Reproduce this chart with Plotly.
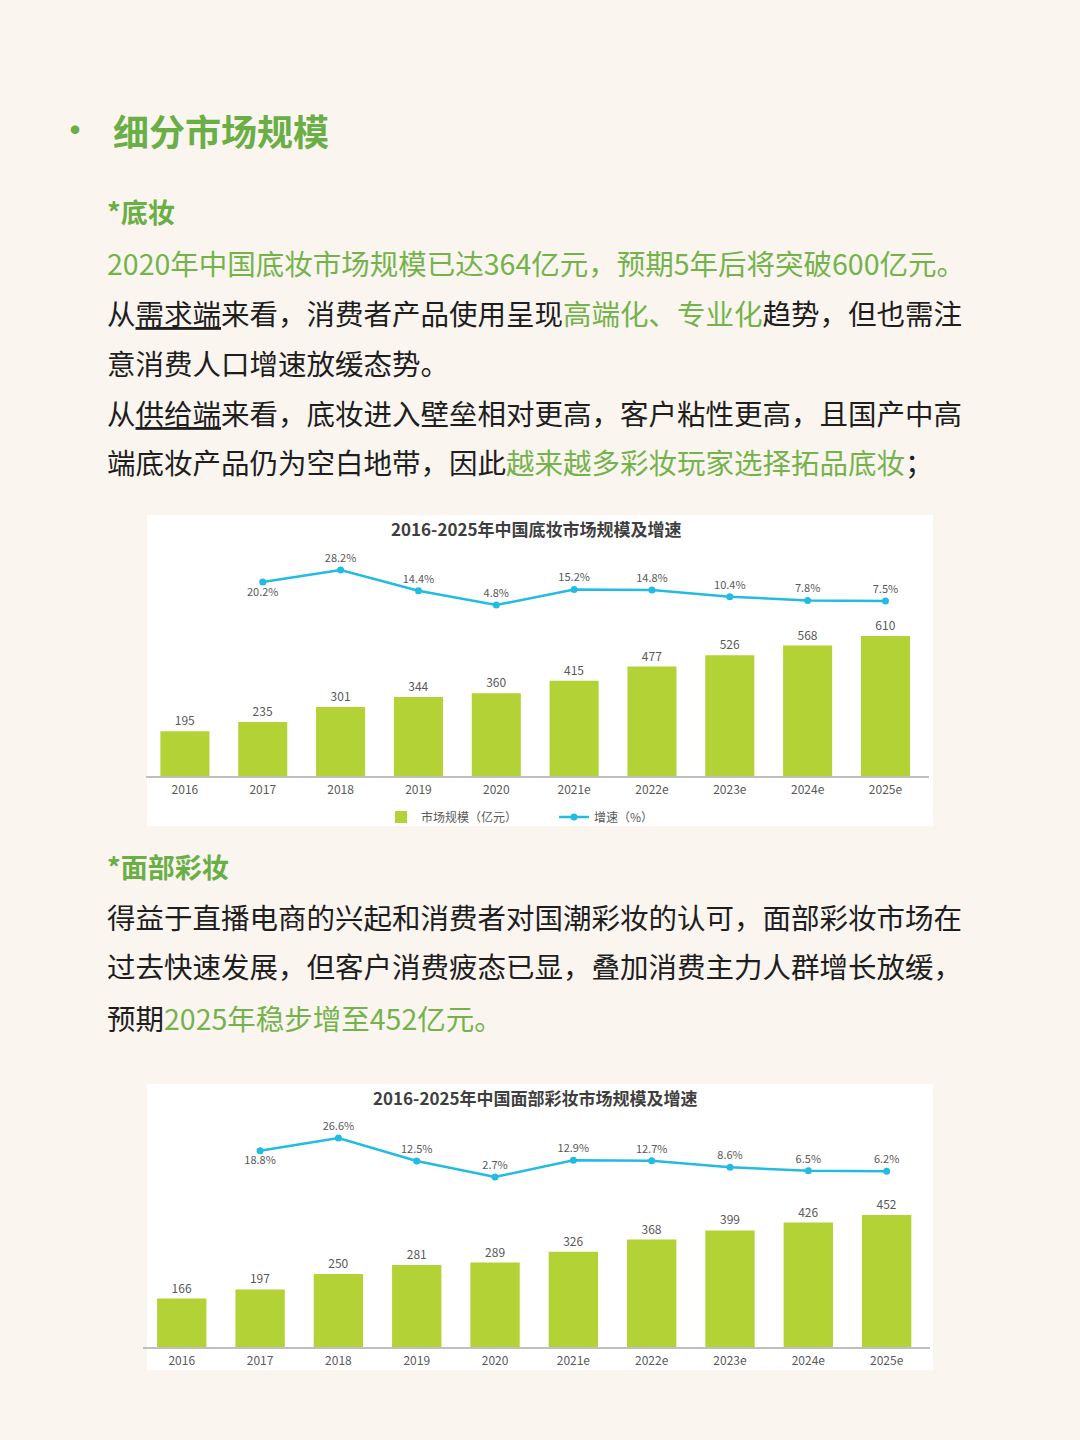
import plotly.graph_objects as go

W, H = 1080, 1440

# ---------------- data ----------------
years = ["2016", "2017", "2018", "2019", "2020", "2021e", "2022e", "2023e", "2024e", "2025e"]
growth_years = years[1:]

base_size = [195, 235, 301, 344, 360, 415, 477, 526, 568, 610]
base_growth = [20.2, 28.2, 14.4, 4.8, 15.2, 14.8, 10.4, 7.8, 7.5]

face_size = [166, 197, 250, 281, 289, 326, 368, 399, 426, 452]
face_growth = [18.8, 26.6, 12.5, 2.7, 12.9, 12.7, 8.6, 6.5, 6.2]

chart1_title = "2016-2025年中国底妆市场规模及增速"
chart2_title = "2016-2025年中国面部彩妆市场规模及增速"
legend_bar = "市场规模（亿元）"
legend_line = "增速（%）"

# ---------------- style ----------------
BG = "#FBF5F0"
GREEN_HEAD = "#6AAE46"
GREEN_TXT = "#74B34C"
DARK = "#1E1E1E"
BAR = "#B2D235"
LINE = "#22BBE3"
LBL = "#595959"
FONT = "Noto Sans CJK SC"


def px(x):
    return x / W


def py(y):
    return 1 - y / H


fig = go.Figure()

# chart 1
fig.add_trace(go.Bar(
    x=years, y=base_size, xaxis="x", yaxis="y", name=legend_bar,
    marker=dict(color=BAR, line=dict(width=0)),
    text=[str(v) for v in base_size], textposition="outside",
    textfont=dict(size=12, color=LBL, family=FONT), cliponaxis=False,
    showlegend=True,
))
fig.add_trace(go.Scatter(
    x=growth_years, y=base_growth, xaxis="x", yaxis="y2", name=legend_line,
    mode="lines+markers+text",
    line=dict(color=LINE, width=2.5), marker=dict(color=LINE, size=7),
    text=[f"{v}%" for v in base_growth],
    textposition=["bottom center"] + ["top center"] * (len(base_growth) - 1),
    textfont=dict(size=11, color=LBL, family=FONT), cliponaxis=False,
    showlegend=True,
))

# chart 2
fig.add_trace(go.Bar(
    x=years, y=face_size, xaxis="x2", yaxis="y3", name=legend_bar,
    marker=dict(color=BAR, line=dict(width=0)),
    text=[str(v) for v in face_size], textposition="outside",
    textfont=dict(size=12, color=LBL, family=FONT), cliponaxis=False,
    showlegend=False,
))
fig.add_trace(go.Scatter(
    x=growth_years, y=face_growth, xaxis="x2", yaxis="y4", name=legend_line,
    mode="lines+markers+text",
    line=dict(color=LINE, width=2.5), marker=dict(color=LINE, size=7),
    text=[f"{v}%" for v in face_growth],
    textposition=["bottom center"] + ["top center"] * (len(face_growth) - 1),
    textfont=dict(size=11, color=LBL, family=FONT), cliponaxis=False,
    showlegend=False,
))

xcommon = dict(type="category", showline=True, linecolor="#BFBFBF", linewidth=1.5,
               showgrid=False, zeroline=False, ticks="outside", ticklen=2,
               tickcolor="rgba(0,0,0,0)",
               tickfont=dict(size=12, color=LBL, family=FONT), fixedrange=True)
yhidden = dict(visible=False, showgrid=False, zeroline=False, fixedrange=True)

fig.update_layout(
    width=W, height=H,
    margin=dict(l=0, r=0, t=0, b=0),
    paper_bgcolor=BG, plot_bgcolor="rgba(0,0,0,0)",
    font=dict(family=FONT, color=DARK),
    bargap=0.37,
    xaxis=dict(domain=[px(146), px(929)], anchor="y", **xcommon),
    yaxis=dict(domain=[py(776), py(560)], range=[0, 941], anchor="x", **yhidden),
    yaxis2=dict(overlaying="y", range=[-109.5, 34.9], anchor="x", **yhidden),
    xaxis2=dict(domain=[px(142.6), px(930.4)], anchor="y3", **xcommon),
    yaxis3=dict(domain=[py(1347), py(1130)], range=[0, 743], anchor="x2", **yhidden),
    yaxis4=dict(overlaying="y3", range=[-101.5, 31.5], anchor="x2", **yhidden),
    legend=dict(orientation="h", x=px(381), y=py(817), xanchor="left", yanchor="middle",
                bgcolor="rgba(0,0,0,0)", font=dict(size=12, color=LBL, family=FONT),
                entrywidth=128, entrywidthmode="pixels", traceorder="normal",
                itemclick=False, itemdoubleclick=False),
    shapes=[
        dict(type="rect", xref="paper", yref="paper", x0=px(147), x1=px(933),
             y0=py(826), y1=py(515), fillcolor="white", line=dict(width=0), layer="below"),
        dict(type="rect", xref="paper", yref="paper", x0=px(147), x1=px(933),
             y0=py(1370), y1=py(1084), fillcolor="white", line=dict(width=0), layer="below"),
    ],
)

ann = []


def add_text(x, y, text, size=28.5, color=DARK, xanchor="left"):
    ann.append(dict(xref="paper", yref="paper", x=px(x), y=py(y), text=text,
                    showarrow=False, xanchor=xanchor, yanchor="middle",
                    font=dict(size=size, color=color, family=FONT)))


def g(s):
    return f"<span style='color:{GREEN_TXT}'>{s}</span>"


add_text(53, 128, "•", size=40, color=GREEN_HEAD)
add_text(111, 130, "<b>细分市场规模</b>", size=36, color=GREEN_HEAD)
add_text(105, 211, "<b>*底妆</b>", size=27, color=GREEN_HEAD)
add_text(105, 262, g("2020年中国底妆市场规模已达364亿元，预期5年后将突破600亿元。"))
add_text(105, 312, "从<u>需求端</u>来看，消费者产品使用呈现" + g("高端化、专业化") + "趋势，但也需注")
add_text(105, 362, "意消费人口增速放缓态势。")
add_text(105, 412, "从<u>供给端</u>来看，底妆进入壁垒相对更高，客户粘性更高，且国产中高")
add_text(105, 462, "端底妆产品仍为空白地带，因此" + g("越来越多彩妆玩家选择拓品底妆") + "；")

add_text(105, 866, "<b>*面部彩妆</b>", size=27, color=GREEN_HEAD)
add_text(105, 916, "得益于直播电商的兴起和消费者对国潮彩妆的认可，面部彩妆市场在")
add_text(105, 966, "过去快速发展，但客户消费疲态已显，叠加消费主力人群增长放缓，")
add_text(105, 1017, "预期" + g("2025年稳步增至452亿元。"))

add_text(536, 528, f"<b>{chart1_title}</b>", size=17, color="#3F3F3F", xanchor="center")
add_text(535, 1097, f"<b>{chart2_title}</b>", size=17, color="#3F3F3F", xanchor="center")

fig.update_layout(annotations=ann)

fig.write_html("out.html", config={"displayModeBar": False},
               post_script="document.body.style.margin='0';document.body.style.padding='0';")
